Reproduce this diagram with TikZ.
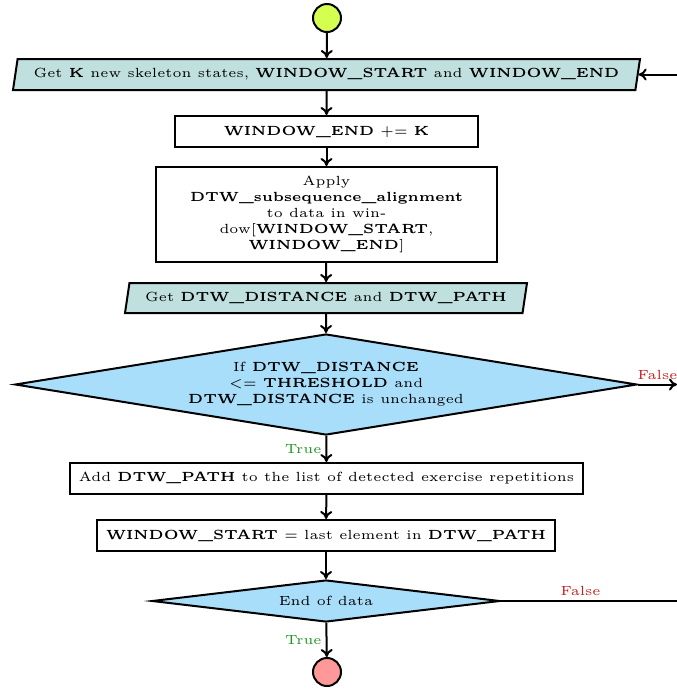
\documentclass[tikz,border=0pt]{standalone}
\usetikzlibrary{shapes.geometric,arrows.meta}
\definecolor{startlime}{RGB}{212,255,80}
\definecolor{endpink}{RGB}{255,153,153}
\definecolor{ioteal}{RGB}{191,224,223}
\definecolor{decblue}{RGB}{168,222,250}
\definecolor{truegreen}{RGB}{30,150,30}
\definecolor{falsered}{RGB}{200,30,30}
\newcommand\pxu{0.377pt}
\tikzset{
  flow/.style={draw, line width=2*\pxu, -{To[length=8*\pxu, width=12*\pxu]}},
  terminal/.style={circle, draw, line width=2*\pxu, minimum size=28*\pxu, inner sep=0pt},
  procbox/.style={rectangle, draw, line width=2*\pxu, fill=white, inner sep=0pt, font=\tiny, align=center},
  iobox/.style={trapezium, trapezium left angle=69, trapezium right angle=111, trapezium stretches body,
    draw, line width=2*\pxu, fill=ioteal, inner sep=0pt, font=\tiny},
  decision/.style={diamond, draw, line width=2*\pxu, fill=decblue, inner sep=0pt, font=\tiny, align=center},
  truelbl/.style={text=truegreen, font=\tiny, inner sep=1.5pt},
  falselbl/.style={text=falsered, font=\tiny, inner sep=1.5pt},
}
\begin{document}
\begin{tikzpicture}[x=\pxu, y=-\pxu]
\useasboundingbox (0,0) rectangle (677,690);
\clip (0,0) rectangle (677,690);

\node[terminal, fill=startlime] (start) at (327,18) {};
\node[iobox, minimum width=627*\pxu, minimum height=31*\pxu] (p1) at (326.5,74.5)
  {Get \textbf{K} new skeleton states, \textbf{WINDOW\_START} and \textbf{WINDOW\_END}};
\node[procbox, minimum width=303*\pxu, minimum height=31*\pxu] (b2) at (326.5,131.5)
  {\textbf{WINDOW\_END} $\mathrel{+}\mathrel{=}$ \textbf{K}};
\node[procbox, minimum width=341*\pxu, minimum height=95*\pxu] (b3) at (326.5,214.5)
  {Apply\\ \textbf{DTW\_subsequence\_alignment}\\ to data in win-\\ dow[\textbf{WINDOW\_START},\\ \textbf{WINDOW\_END}]};
\node[iobox, minimum width=402*\pxu, minimum height=30*\pxu] (p2) at (326,298)
  {Get \textbf{DTW\_DISTANCE} and \textbf{DTW\_PATH}};
\node[decision, aspect=6.2, minimum width=622*\pxu, minimum height=101*\pxu] (d1) at (326,384.5)
  {If \textbf{DTW\_DISTANCE}\\ $<=$ \textbf{THRESHOLD} and\\ \textbf{DTW\_DISTANCE} is unchanged};
\node[procbox, minimum width=513*\pxu, minimum height=31*\pxu] (b4) at (326.5,478.5)
  {Add \textbf{DTW\_PATH} to the list of detected exercise repetitions};
\node[procbox, minimum width=458*\pxu, minimum height=31*\pxu] (b5) at (326,535.5)
  {\textbf{WINDOW\_START} $=$ last element in \textbf{DTW\_PATH}};
\node[decision, aspect=8.3, minimum width=348*\pxu, minimum height=42*\pxu] (d2) at (326,601) {End of data};
\node[terminal, fill=endpink] (end) at (327,672) {};

\coordinate (falseend) at (677,384.5);
\coordinate (loopx) at (700,0);

\draw[flow] (start) -- (p1);
\draw[flow] (p1) -- (b2);
\draw[flow] (b2) -- (b3);
\draw[flow] (b3) -- (p2);
\draw[flow] (p2) -- (d1);
\draw[flow] (d1) -- node[truelbl, left] {True} (b4);
\draw[flow] (d1.east) -- node[falselbl, above] {False} (falseend);
\draw[flow] (b4) -- (b5);
\draw[flow] (b5) -- (d2);
\draw[flow] (d2) -- node[truelbl, left] {True} (end);
\draw[flow] (d2.east) -- node[falselbl, above, pos=0.4] {False} (d2.east -| loopx) |- (p1.east);
\end{tikzpicture}
\end{document}
